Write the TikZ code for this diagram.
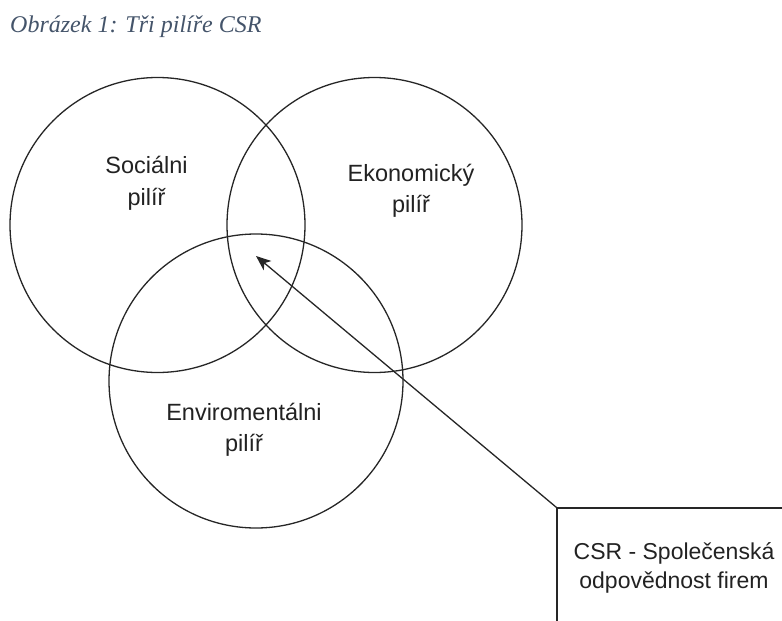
\documentclass[tikz,border=0pt]{standalone}
\usepackage{fontspec}
\setmainfont{Liberation Sans}
\newfontfamily\titlefont{Liberation Serif}
\usetikzlibrary{arrows.meta}
\definecolor{captionblue}{HTML}{44546A}
\definecolor{linegray}{HTML}{262626}
\definecolor{textgray}{HTML}{222222}
\begin{document}
\begin{tikzpicture}[x=1pt,y=-1pt,
  pillar/.style={circle, draw=linegray, line width=1.3pt, minimum size=295pt, inner sep=0pt},
  pillartext/.style={font=\fontsize{23.5}{31.5}\selectfont, text=textgray, align=center, inner sep=0pt},
  csrbox/.style={rectangle, draw=linegray, line width=1.3pt, minimum width=234pt, minimum height=120pt, inner sep=0pt, align=center, text=textgray, font=\fontsize{23}{29}\selectfont},
  connector/.style={draw=linegray, line width=1.3pt, -{Stealth[length=15pt,width=12pt,inset=4pt]}}
]
\useasboundingbox (0,0) rectangle (782,621);

\node[anchor=base west, font=\titlefont\itshape\fontsize{24}{28}\selectfont, text=captionblue, inner sep=0pt] (title) at (10,32) {Obrázek 1: Tři pilíře CSR};

\node[pillar] (soc) at (157.5,225) {};
\node[pillar] (eko) at (374.5,225) {};
\node[pillar, minimum size=294pt] (env) at (256,381) {};

\node[pillartext] (soctext) at (146.5,183.5) {Sociálni\\pilíř};
\node[pillartext] (ekotext) at (411,191) {Ekonomický\\pilíř};
\node[pillartext] (envtext) at (244,430) {Enviromentálni\\pilíř};

\node[csrbox] (csr) at (674,568) {CSR - Společenská\\odpovědnost firem};

\coordinate (tip) at (256,256);
\draw[connector] (csr.north west) -- (tip);
\end{tikzpicture}
\end{document}
